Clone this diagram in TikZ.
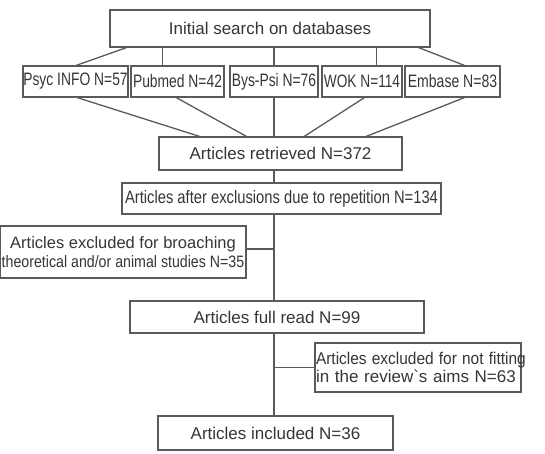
\documentclass[tikz,border=0pt]{standalone}
\usepackage{fontspec}
\setmainfont{Liberation Sans}
\usetikzlibrary{calc}
\definecolor{linegray}{HTML}{5A5A5A}
\definecolor{textgray}{HTML}{363636}
\tikzset{
    box/.style={draw=linegray, fill=white, line width=1.3pt, inner sep=0pt,
        text=textgray, font=\fontsize{17}{20}\selectfont},
    dbbox/.style={box, minimum height=31, font=\fontsize{18}{20}\selectfont},
    link/.style={draw=linegray, line width=1.3pt}
}
\newcommand{\sq}[2]{\scalebox{#1}[1]{#2}}
\begin{document}
\begin{tikzpicture}[x=1pt,y=-1pt]
    \useasboundingbox (0,0) rectangle (545,454);
    \node[box, minimum width=320, minimum height=37] (top) at (270,28.5) {Initial search on databases};
    \node[dbbox, minimum width=105] (psyc) at (75.5,81.5) {\sq{0.77}{Psyc INFO N=57}};
    \node[dbbox, minimum width=93] (pubmed) at (177.5,81.5) {\sq{0.77}{Pubmed N=42}};
    \node[dbbox, minimum width=88] (bys) at (274,81.5) {\sq{0.77}{Bys-Psi N=76}};
    \node[dbbox, minimum width=80] (wok) at (362,81.5) {\sq{0.76}{WOK N=114}};
    \node[dbbox, minimum width=95] (embase) at (452.5,81.5) {\sq{0.78}{Embase N=83}};
    \node[box, minimum width=243, minimum height=33] (retr) at (280.5,153.5) {Articles retrieved N=372};
    \node[box, minimum width=319, minimum height=31, font=\fontsize{18}{20}\selectfont] (rep) at (281.5,198.5)
        {\sq{0.82}{Articles after exclusions due to repetition N=134}};
    \node[box, minimum width=246, minimum height=52, align=center,
        font=\fontsize{16.5}{19.5}\selectfont] (broach) at (123,252)
        {Articles excluded for broaching\\\makebox[236pt][c]{\sq{0.86}{theoretical and/or animal studies N=35}}};
    \node[box, minimum width=294, minimum height=32] (full) at (277,317) {Articles full read N=99};
    \node[box, minimum width=206, minimum height=49, text width=204pt, inner xsep=1pt, align=left,
        font=\fontsize{17}{18.5}\selectfont] (notfit) at (418,367.5)
        {\makebox[200pt][l]{\sq{0.91}{Articles excluded for not fitting}}\\in the review\textasciigrave s aims N=63};
    \node[box, minimum width=235, minimum height=34] (incl) at (275.5,433) {Articles included N=36};

    \coordinate (p2) at ($(pubmed.north west)+(32,0)$);
    \coordinate (p4) at ($(wok.north west)+(55,0)$);
    \draw[link] ($(top.south west)+(17,0)$) -- ($(psyc.north west)+(54,0)$);
    \draw[link] (p2) -- (p2 |- top.south);
    \draw[link] (bys.north) -- (bys.north |- top.south);
    \draw[link] (p4) -- (p4 |- top.south);
    \draw[link] ($(top.south east)+(-12,0)$) -- ($(embase.north west)+(60,0)$);

    \draw[link] ($(psyc.south west)+(55,0)$) -- ($(retr.north west)+(41,0)$);
    \draw[link] ($(pubmed.south west)+(46,0)$) -- ($(retr.north west)+(88,0)$);
    \draw[link] (bys.south) -- (bys.south |- retr.north);
    \draw[link] ($(wok.south west)+(43,0)$) -- ($(retr.north west)+(146,0)$);
    \draw[link] ($(embase.south west)+(60,0)$) -- ($(retr.north west)+(208,0)$);

    \draw[link] (retr.south -| bys) -- (rep.north -| bys);
    \draw[link] (rep.south -| bys) -- (full.north -| bys);
    \draw[link] (full.south -| bys) -- (incl.north -| bys);
    \coordinate (b1) at ($(broach.east)+(0,-3)$);
    \draw[link] (b1) -- (b1 -| bys);
    \draw[link] (notfit.west) -- (notfit.west -| bys);
\end{tikzpicture}
\end{document}
